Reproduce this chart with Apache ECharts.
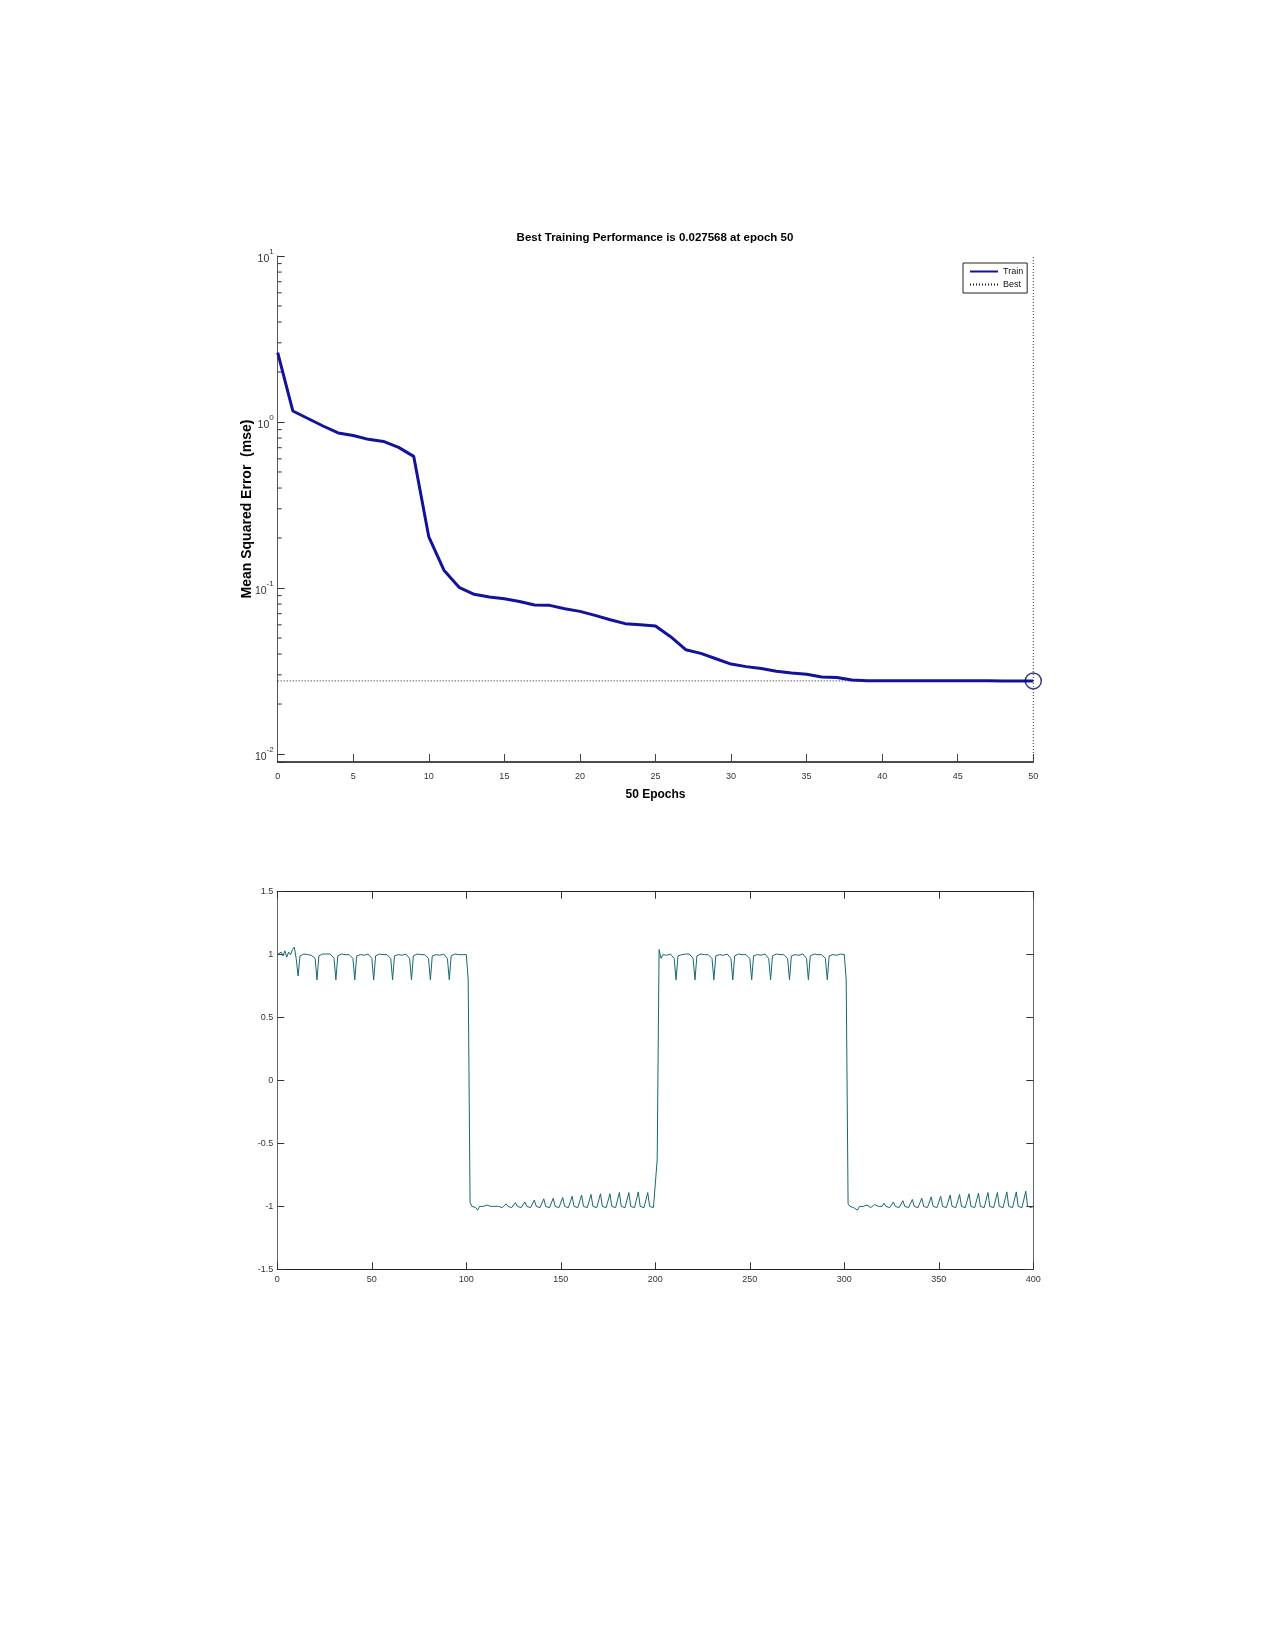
<!DOCTYPE html>
<html>
<head>
<meta charset="utf-8">
<script src="https://cdn.jsdelivr.net/npm/echarts@6/dist/echarts.min.js"></script>
<style>
html,body{margin:0;padding:0;background:#fff;}
#c{width:1275px;height:1651px;}
</style>
</head>
<body>
<div id="c"></div>
<script>
// ---------- Data: training performance (top chart) ----------
const titleText = 'Best Training Performance is 0.027568 at epoch 50';
const epochs = [0,1,2,3,4,5,6,7,8,9,10,11,12,13,14,15,16,17,18,19,20,21,22,23,24,25,
                26,27,28,29,30,31,32,33,34,35,36,37,38,39,40,41,42,43,44,45,46,47,48,49,50];
const trainMse = [2.62,1.165,1.05,0.946,0.859,0.83,0.786,0.764,0.703,0.621,
                  0.203,0.128,0.101,0.0916,0.0883,0.0862,0.083,0.079,0.0786,0.075,
                  0.0723,0.0684,0.0644,0.061,0.0601,0.059,0.0509,0.0425,0.0404,0.0375,
                  0.0348,0.0336,0.0327,0.0315,0.0308,0.0302,0.0291,0.0289,0.0279,0.02766,
                  0.02762,0.0276,0.0276,0.02759,0.02759,0.02758,0.02758,0.02758,0.02757,0.02757,
                  0.027568];
const bestEpoch = 50;
const bestMse = 0.027568;
const perfYMin = 0.00895;   // bottom of log axis (slightly below 10^-2)
const perfYMax = 10;
const minorTickVals = [0.02,0.03,0.04,0.05,0.06,0.07,0.08,0.09,
                       0.2,0.3,0.4,0.5,0.6,0.7,0.8,0.9,
                       2,3,4,5,6,7,8,9];
const legendNames = ['Train','Best'];

// ---------- Data: signal (bottom chart), one value per sample 0..400 ----------
const sigHigh1 = [ // samples 0..101
  1.00,1.00,1.02,0.99,1.03,0.98,1.02,1.00,1.04,1.06,
  0.97,0.83,0.99,1.00,1.005,0.995,1.00,1.005,0.995,1.00,
  0.97,0.80,0.99,1.00,1.005,0.995,1.005,1.00,1.005,1.00,
  0.97,0.80,0.99,1.00,1.005,0.995,1.00,1.005,1.00,1.00,
  0.97,0.80,0.99,1.00,1.00,1.005,0.995,1.00,1.005,1.00,
  0.97,0.80,0.99,1.00,1.005,0.995,1.00,1.005,1.00,1.00,
  0.97,0.80,0.99,1.00,1.00,1.005,0.995,1.00,1.005,1.00,
  0.97,0.80,0.99,1.00,1.005,0.995,1.00,1.005,1.00,1.00,
  0.97,0.80,0.99,1.00,1.00,1.005,0.995,1.00,1.005,1.00,
  0.97,0.80,0.99,1.00,1.005,0.995,1.00,1.005,1.00,1.00,
  1.00,0.80];
const sigLow1 = [ // samples 102..201
  -0.97,-1.00,-0.99,-1.01,-1.03,-1.00,-0.99,-1.00,
  -1.01,-0.99,-1.00,-1.00,-1.01,-1.00,-0.985,-1.00,-1.00,-1.01,
  -1.00,-0.98,-1.00,-1.00,-1.01,-1.00,-0.97,-1.00,-1.01,-1.01,
  -1.00,-0.965,-1.00,-1.01,-1.01,-1.00,-0.95,-1.00,-1.01,-1.01,
  -1.00,-0.94,-1.00,-1.01,-1.01,-1.00,-0.935,-1.00,-1.01,-1.01,
  -1.00,-0.93,-1.00,-1.01,-1.01,-1.00,-0.92,-1.00,-1.01,-1.01,
  -1.00,-0.91,-1.00,-1.01,-1.01,-1.00,-0.905,-1.00,-1.01,-1.01,
  -1.00,-0.90,-1.00,-1.01,-1.01,-1.00,-0.90,-1.00,-1.01,-1.01,
  -1.00,-0.89,-1.00,-1.01,-1.01,-1.00,-0.89,-1.00,-1.01,-1.01,
  -1.00,-0.885,-1.00,-1.01,-1.01,-1.00,-0.89,-1.00,-1.01,-1.01,
  -1.01,-0.63];
const sigHigh2 = [ // samples 202..301
  1.04,0.97,1.00,1.00,0.995,1.00,1.005,1.00,
  0.97,0.80,0.99,1.00,1.00,0.995,1.005,1.00,1.005,1.00,
  0.97,0.80,0.99,1.00,1.005,0.995,1.00,1.005,1.00,1.00,
  0.97,0.80,0.99,1.00,1.00,1.005,0.995,1.00,1.005,1.00,
  0.97,0.80,0.99,1.00,1.005,0.995,1.00,1.005,1.00,1.00,
  0.97,0.80,0.99,1.00,1.00,1.005,0.995,1.00,1.005,1.00,
  0.97,0.80,0.99,1.00,1.005,0.995,1.00,1.005,1.00,1.00,
  0.97,0.80,0.99,1.00,1.00,1.005,0.995,1.00,1.005,1.00,
  0.97,0.80,0.99,1.00,1.005,0.995,1.00,1.005,1.00,1.00,
  0.97,0.80,0.99,1.00,1.00,1.005,0.995,1.00,1.005,1.00,
  1.00,0.80];
const sigLow2 = [ // samples 302..400
  -0.98,-1.00,-0.99,-1.01,-1.02,-1.03,-1.00,-0.99,
  -1.00,-1.01,-0.99,-1.00,-1.01,-1.00,-0.985,-1.00,-1.00,-1.01,
  -1.00,-0.975,-1.00,-1.00,-1.01,-1.00,-0.965,-1.00,-1.01,-1.01,
  -1.00,-0.955,-1.00,-1.01,-1.01,-1.00,-0.945,-1.00,-1.01,-1.01,
  -1.00,-0.935,-1.00,-1.01,-1.01,-1.00,-0.925,-1.00,-1.01,-1.01,
  -1.00,-0.92,-1.00,-1.01,-1.01,-1.00,-0.91,-1.00,-1.01,-1.01,
  -1.00,-0.905,-1.00,-1.01,-1.01,-1.00,-0.90,-1.00,-1.01,-1.01,
  -1.00,-0.895,-1.00,-1.01,-1.01,-1.00,-0.89,-1.00,-1.01,-1.01,
  -1.00,-0.89,-1.00,-1.01,-1.01,-1.00,-0.885,-1.00,-1.01,-1.01,
  -1.00,-0.885,-1.00,-1.01,-1.01,-1.00,-0.88,-1.00,-1.01,-1.01,
  -1.00];
const sigXMin = 0, sigXMax = 400, sigXStep = 50;
const sigYMin = -1.5, sigYMax = 1.5, sigYStep = 0.5;

// ---------- Styles ----------
const NAVY = '#12129a';
const SIG = '#17686e';
const SANS = '"Liberation Sans",Arial,sans-serif';

const signal = sigHigh1.concat(sigLow1, sigHigh2, sigLow2);
const signalData = signal.map((v, i) => [i, v]);
const trainData = epochs.map((e, i) => [e, trainMse[i]]);

const chart = echarts.init(document.getElementById('c'), null, {renderer: 'canvas'});

const boxTick = {inside: true, length: 7, lineStyle: {color: '#333', width: 1}};

const option = {
  animation: false,
  backgroundColor: '#ffffff',
  title: {
    text: titleText,
    left: 655, top: 232, padding: 0,
    textAlign: 'center',
    textStyle: {fontFamily: SANS, fontWeight: 'bold', fontSize: 11.5, color: '#000'}
  },
  legend: {
    data: legendNames,
    orient: 'vertical',
    left: 963, top: 263,
    padding: [4, 4, 4, 6],
    itemGap: 4,
    itemWidth: 28, itemHeight: 11,
    borderColor: '#222', borderWidth: 1,
    backgroundColor: '#fff',
    textStyle: {fontFamily: SANS, fontSize: 9, color: '#111'}
  },
  grid: [
    {left: 277.7, right: 241.7, top: 256, bottom: 889},
    {left: 277.3, right: 241.7, top: 891.7, bottom: 381.7}
  ],
  xAxis: [
    {
      gridIndex: 0, type: 'value', min: 0, max: 50, interval: 5,
      axisLine: {onZero: false, lineStyle: {color: '#111', width: 1.5}},
      axisTick: {inside: true, length: 8, lineStyle: {color: '#444'}},
      axisLabel: {margin: 10, fontFamily: SANS, fontSize: 9, color: '#333'},
      splitLine: {show: false},
      name: '50 Epochs', nameLocation: 'middle', nameGap: 27, nameMoveOverlap: false,
      nameTextStyle: {fontFamily: SANS, fontWeight: 'bold', fontSize: 12, color: '#000'}
    },
    {
      gridIndex: 1, type: 'value', min: sigXMin, max: sigXMax, interval: sigXStep,
      axisLine: {onZero: false, lineStyle: {color: '#222', width: 1.2}},
      axisTick: boxTick,
      axisLabel: {margin: 6, fontFamily: SANS, fontSize: 9, color: '#333'},
      splitLine: {show: false}
    },
    {
      gridIndex: 1, type: 'value', position: 'top', min: sigXMin, max: sigXMax, interval: sigXStep,
      axisLine: {onZero: false, lineStyle: {color: '#222', width: 1.2}},
      axisTick: boxTick,
      axisLabel: {show: false},
      splitLine: {show: false}
    }
  ],
  yAxis: [
    {
      gridIndex: 0, type: 'log', logBase: 10, min: perfYMin, max: perfYMax,
      axisLine: {show: true, onZero: false, lineStyle: {color: '#555', width: 1}},
      axisTick: {show: true, inside: true, length: 7, lineStyle: {color: '#333'}},
      axisLabel: {
        margin: 4, color: '#333', fontFamily: SANS, fontSize: 10,
        formatter: function (v) {
          const k = Math.log10(v);
          if (Math.abs(k - Math.round(k)) > 1e-6) return '';
          return '{b|10}{s|' + Math.round(k) + '}';
        },
        rich: {
          b: {fontFamily: SANS, fontSize: 10.5, color: '#333', lineHeight: 17, verticalAlign: 'bottom'},
          s: {fontFamily: SANS, fontSize: 8, color: '#333', lineHeight: 10, verticalAlign: 'top'}
        }
      },
      splitLine: {show: false},
      name: 'Mean Squared Error  (mse)', nameLocation: 'middle', nameGap: 24, nameMoveOverlap: false,
      nameTextStyle: {fontFamily: SANS, fontWeight: 'bold', fontSize: 14, color: '#000'}
    },
    {
      gridIndex: 1, type: 'value', min: sigYMin, max: sigYMax, interval: sigYStep,
      axisLine: {show: true, onZero: false, lineStyle: {color: '#666', width: 1}},
      axisTick: boxTick,
      axisLabel: {margin: 4, fontFamily: SANS, fontSize: 9, color: '#333'},
      splitLine: {show: false}
    },
    {
      gridIndex: 1, type: 'value', position: 'right', min: sigYMin, max: sigYMax, interval: sigYStep,
      axisLine: {show: true, onZero: false, lineStyle: {color: '#666', width: 1}},
      axisTick: boxTick,
      axisLabel: {show: false},
      splitLine: {show: false}
    }
  ],
  series: [
    {
      name: 'Best', type: 'line', xAxisIndex: 0, yAxisIndex: 0,
      data: [[epochs[0], bestMse], [bestEpoch, bestMse]],
      symbol: 'none', silent: true,
      lineStyle: {color: '#111', width: 1, type: [1, 2]},
      itemStyle: {color: '#111', opacity: 0}, z: 2
    },
    {
      name: 'BestEpoch', type: 'line', xAxisIndex: 0, yAxisIndex: 0,
      data: [[bestEpoch, perfYMin], [bestEpoch, perfYMax]],
      symbol: 'none', silent: true,
      lineStyle: {color: '#333', width: 1, type: [1, 2]}, z: 2
    },
    {
      name: 'Train', type: 'line', xAxisIndex: 0, yAxisIndex: 0,
      data: trainData, symbol: 'none', silent: true,
      lineStyle: {color: NAVY, width: 3},
      itemStyle: {color: NAVY, opacity: 0}, z: 3
    },
    {
      name: 'BestPoint', type: 'scatter', xAxisIndex: 0, yAxisIndex: 0,
      data: [[bestEpoch, bestMse]], symbol: 'circle', symbolSize: 16, silent: true,
      itemStyle: {color: 'rgba(0,0,0,0)', borderColor: '#0a0a60', borderWidth: 1.5}, z: 4
    },
    {
      name: 'minorTicks', type: 'custom', xAxisIndex: 0, yAxisIndex: 0,
      data: minorTickVals.map(v => [0, v]), silent: true, clip: false,
      renderItem: function (params, api) {
        const p = api.coord([api.value(0), api.value(1)]);
        return {type: 'line', shape: {x1: p[0], y1: p[1], x2: p[0] + 4, y2: p[1]},
                style: {stroke: '#333', lineWidth: 1}};
      }
    },
    {
      name: 'Signal', type: 'line', xAxisIndex: 1, yAxisIndex: 1,
      data: signalData, symbol: 'none', silent: true,
      lineStyle: {color: SIG, width: 1}
    }
  ]
};
chart.setOption(option);
</script>
</body>
</html>
